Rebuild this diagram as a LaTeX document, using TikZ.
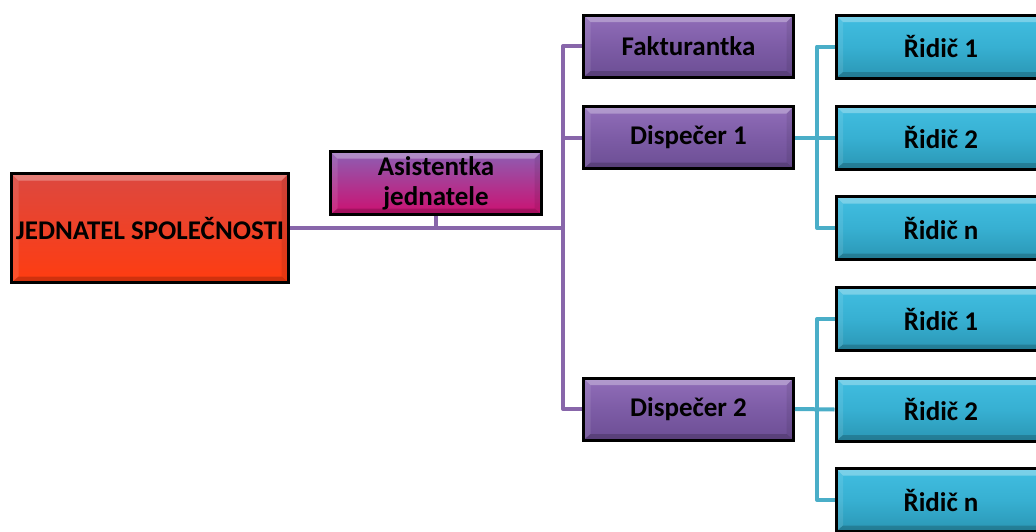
\documentclass[tikz,border=0pt]{standalone}
\usepackage{fontspec}
\setmainfont{Carlito}
\begin{document}
\begin{tikzpicture}[x=1pt,y=-1pt,
  bevel/.style={path picture={
    \fill[white,opacity=0.3] (path picture bounding box.north west) -- (path picture bounding box.north east)
      -- ([xshift=-7pt,yshift=-7pt]path picture bounding box.north east) -- ([xshift=7pt,yshift=-7pt]path picture bounding box.north west) -- cycle;
    \fill[black,opacity=0.18] (path picture bounding box.south west) -- (path picture bounding box.south east)
      -- ([xshift=-7pt,yshift=6pt]path picture bounding box.south east) -- ([xshift=7pt,yshift=6pt]path picture bounding box.south west) -- cycle;
    \fill[black,opacity=0.08] (path picture bounding box.north east) -- (path picture bounding box.south east)
      -- ([xshift=-7pt,yshift=6pt]path picture bounding box.south east) -- ([xshift=-7pt,yshift=-7pt]path picture bounding box.north east) -- cycle;
    \fill[white,opacity=0.1] (path picture bounding box.north west) -- (path picture bounding box.south west)
      -- ([xshift=7pt,yshift=6pt]path picture bounding box.south west) -- ([xshift=7pt,yshift=-7pt]path picture bounding box.north west) -- cycle;
  }},
  box/.style={draw=black,line width=3pt,minimum width=210pt,minimum height=62pt,bevel,
    inner sep=0pt,align=center,font=\fontsize{27}{30}\selectfont\bfseries},
  redbox/.style={box,top color={rgb,255:red,220;green,72;blue,64},bottom color={rgb,255:red,255;green,60;blue,16}},
  purbox/.style={box,top color={rgb,255:red,145;green,110;blue,185},bottom color={rgb,255:red,108;green,78;blue,148},middle color={rgb,255:red,125;green,92;blue,166}},
  magbox/.style={box,top color={rgb,255:red,140;green,95;blue,180},bottom color={rgb,255:red,205;green,16;blue,112}},
  tealbox/.style={box,top color={rgb,255:red,65;green,190;blue,225},bottom color={rgb,255:red,42;green,150;blue,180},middle color={rgb,255:red,55;green,176;blue,210}},
  pline/.style={draw={rgb,255:red,136;green,102;blue,170},line width=4pt,line join=round},
  tline/.style={draw={rgb,255:red,74;green,174;blue,200},line width=4pt,line join=round}]
\useasboundingbox (0,0) rectangle (1036,531);
\clip (0,0) rectangle (1036,531);
% nodes
\node[redbox,minimum width=277pt,minimum height=109pt] (jed) at (150,228) {JEDNATEL SPOLEČNOSTI};
\node[magbox,minimum width=211pt,minimum height=63pt] (asi) at (436,183) {Asistentka\\jednatele};
\node[purbox] (fak) at (688.5,46) {Fakturantka};
\node[purbox] (d1) at (688.5,137.5) {Dispečer 1};
\node[purbox] (d2) at (688.5,409) {Dispečer 2};
\node[tealbox,minimum height=63pt] (r11) at (941,46.5) {Řidič 1};
\node[tealbox,minimum height=63pt] (r12) at (941,137.5) {Řidič 2};
\node[tealbox,minimum height=63pt] (r1n) at (941,228) {Řidič n};
\node[tealbox,minimum height=63pt] (r21) at (941,319) {Řidič 1};
\node[tealbox,minimum height=63pt] (r22) at (941,409.5) {Řidič 2};
\node[tealbox,minimum height=63pt] (r2n) at (941,500) {Řidič n};
\coordinate (px) at (563,0);
\coordinate (tx) at (817,0);
% purple connectors
\draw[pline] (fak.west) -- (fak.west -| px) -- (d2.west -| px) -- (d2.west);
\draw[pline] (d1.west) -- (d1.west -| px);
\draw[pline] (jed.east) -- (jed.east -| px);
\draw[pline] (asi.south) -- (asi.south |- jed.east);
% teal connectors
\draw[tline] (r11.west) -- (r11.west -| tx) -- (r1n.west -| tx) -- (r1n.west);
\draw[tline] (d1.east) -- (r12.west);
\draw[tline] (r21.west) -- (r21.west -| tx) -- (r2n.west -| tx) -- (r2n.west);
\draw[tline] (d2.east) -- (r22.west);
\end{tikzpicture}
\end{document}
